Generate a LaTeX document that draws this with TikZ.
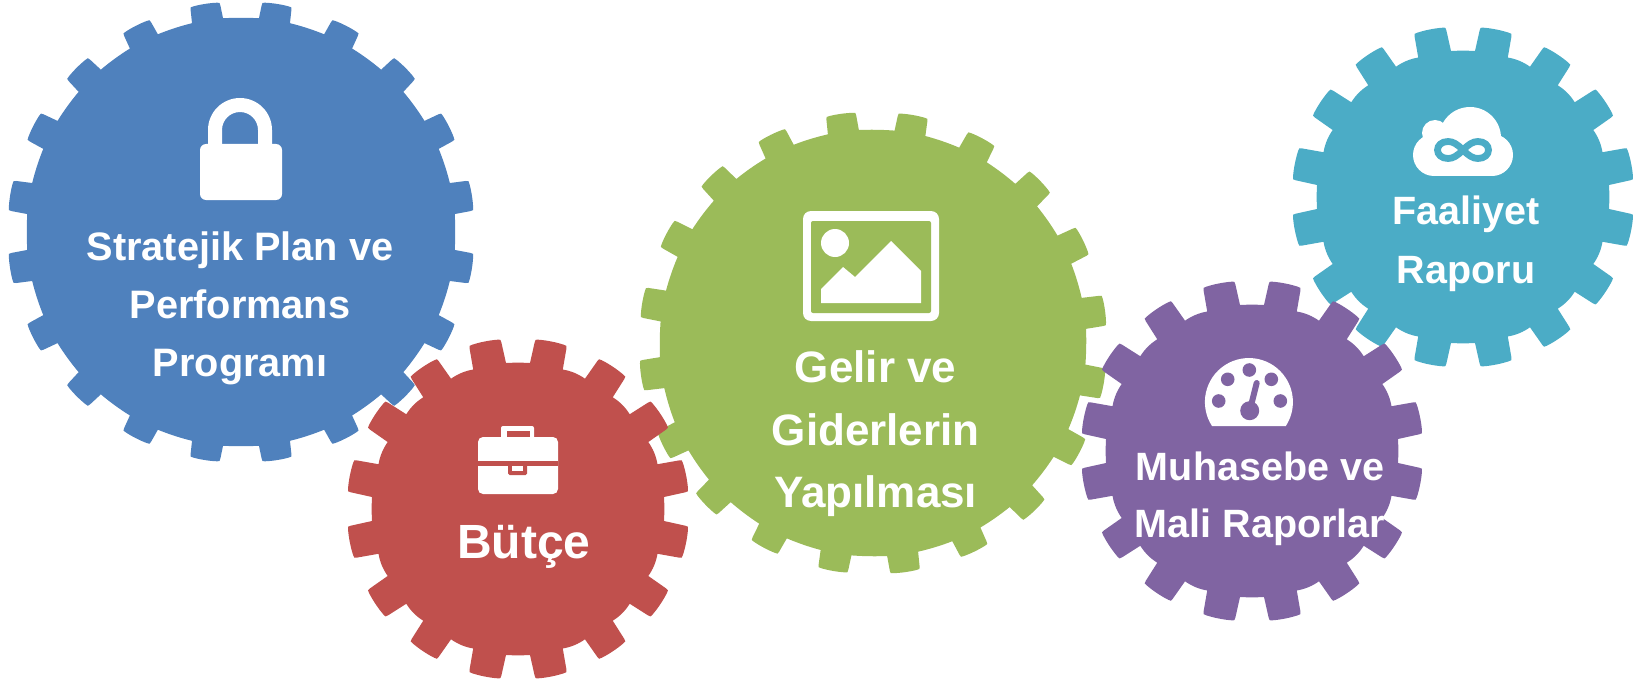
\documentclass[tikz,border=0pt]{standalone}
\usepackage{fontspec}
\setmainfont{Liberation Sans}
\definecolor{gblue}{HTML}{4F81BD}
\definecolor{ggreen}{HTML}{9BBB59}
\definecolor{gteal}{HTML}{4BACC6}
\definecolor{gred}{HTML}{C0504D}
\definecolor{gpurple}{HTML}{8064A2}
% #1 cx, #2 cy, #3 root radius, #4 outer radius, #5 teeth, #6 rotation, #7 base half angle, #8 top half angle, #9 colour
\newcommand{\drawgear}[9]{%
  \pgfmathsetmacro\gc{3}%
  \pgfmathsetmacro\gd{\gc/#4*57.3}%
  \pgfmathsetmacro\gi{#8+(#7-#8)*\gc/(#4-#3)}%
  \pgfmathsetmacro\gs{360/#5}%
  \pgfmathsetmacro\gstart{0.5*\gs+#6-#7}%
  \pgfmathsetmacro\gext{#5==20 ? 3 : 0.7}%
  \pgfmathsetmacro\gbulge{#5==20 ? 0.2 : 1.4}%
  \xdef\gearpath{(\gstart:#3)}%
  \pgfmathtruncatemacro\glast{#5-1}%
  \foreach \k in {0,...,\glast}{%
    \pgfmathsetmacro\ga{(\k+0.5)*\gs+#6}%
    \pgfmathsetmacro\ro{#4+\gext*cos(\ga)*cos(\ga)}%
    \pgfmathsetmacro\ta{\ga-\gi}%
    \pgfmathsetmacro\tb{\ga-#8}%
    \pgfmathsetmacro\tc{\ga-#8+\gd}%
    \pgfmathsetmacro\td{\ga-#8/3}%
    \pgfmathsetmacro\te{\ga+#8/3}%
    \pgfmathsetmacro\tf{\ga+#8-\gd}%
    \pgfmathsetmacro\tg{\ga+#8}%
    \pgfmathsetmacro\th{\ga+\gi}%
    \pgfmathsetmacro\ti{\ga+#7}%
    \pgfmathsetmacro\tj{\ga+\gs-#7}%
    \pgfmathsetmacro\tk{\ti+(\tj-\ti)/3}%
    \pgfmathsetmacro\tl{\tj-(\tj-\ti)/3}%
    \pgfmathsetmacro\rl{\ro-\gc}%
    \pgfmathsetmacro\rb{\ro+0.6}%
    \pgfmathtruncatemacro\gflat{mod(\k+1,#5/4)==0 ? 1 : 0}%
    \pgfmathsetmacro\rv{#3+(\gflat==1 ? 0 : \gbulge)}%
    \xdef\gearpath{\gearpath -- (\ta:\rl) .. controls (\tb:\ro) .. (\tc:\ro)
      .. controls (\td:\rb) and (\te:\rb) .. (\tf:\ro)
      .. controls (\tg:\ro) .. (\th:\rl) -- (\ti:#3)
      .. controls (\tk:\rv) and (\tl:\rv) .. (\tj:#3)}%
  }%
  \fill[#9,shift={(#1,#2)}] \gearpath -- cycle;%
}
\tikzset{
  gearlabel/.style={text=white,inner sep=0pt,align=center,anchor=center},
  iconwhite/.style={fill=white,draw=none},
}
\begin{document}
\begin{tikzpicture}[x=1pt,y=-1pt]
\useasboundingbox (0,0) rectangle (1641,682);
% gears, back to front
\drawgear{241}{232}{214.5}{230.5}{20}{0}{4.2}{3.7}{gblue}
\drawgear{873}{343}{213.5}{231}{20}{1}{4.2}{3.7}{ggreen}
\drawgear{1463}{197}{146.5}{170.5}{16}{0}{6.55}{5.4}{gteal}
\drawgear{518}{509}{146.5}{170.5}{16}{0}{6.55}{5.4}{gred}
\drawgear{1252}{451}{146.5}{170.5}{16}{0}{6.55}{5.4}{gpurple}
% lock
\fill[iconwhite,rounded corners=6pt] (200,144) rectangle (282,200);
\fill[iconwhite] (208,150) -- (208,130) arc[start angle=180,end angle=360,radius=32] -- (272,150) -- (258,150) -- (258,130) arc[start angle=360,end angle=180,radius=18] -- (222,150) -- cycle;
% briefcase
\fill[iconwhite,rounded corners=5pt] (478,437) rectangle (558,494);
\fill[iconwhite,rounded corners=2pt] (501,426) rectangle (534,440);
\fill[gred] (507,431) rectangle (530,437);
\fill[gred] (478,461) rectangle (558,465.5);
\fill[gred,rounded corners=1.5pt] (508,464) rectangle (527,475);
\fill[iconwhite] (512,465.5) rectangle (523,471);
% picture frame
\fill[iconwhite,rounded corners=8pt] (803,211) rectangle (939,321);
\fill[ggreen,rounded corners=2pt] (811,221) rectangle (931,313);
\fill[iconwhite] (835,243) circle[radius=14];
\fill[iconwhite] (821,289) -- (843,267) -- (855,277) -- (891,241) -- (921,271) -- (921,303) -- (821,303) -- cycle;
% gauge
\fill[iconwhite] (1212,426) arc[start angle=147,end angle=393,radius=44] -- cycle;
\foreach \p in {(1249.3,370),(1227.7,379.3),(1271.3,379.3),(1218.7,401),(1280.3,401)}
  \fill[gpurple] \p circle[radius=6.8];
\fill[gpurple] (1249.7,410.7) circle[radius=9.5];
\draw[gpurple,line width=6pt,line cap=round] (1249.7,410.7) -- (1256.7,383);
% cloud
\fill[iconwhite] (1470,138) circle[radius=31];
\fill[iconwhite] (1435,133) circle[radius=13];
\fill[iconwhite] (1434,155) circle[radius=21];
\fill[iconwhite] (1492,155) circle[radius=21];
\fill[iconwhite] (1434,135) rectangle (1492,176);
\draw[gteal,line width=6.8pt] (1463,150) .. controls (1457,144) and (1453,141.5) .. (1448,141.5) .. controls (1441.5,141.5) and (1437.5,145.5) .. (1437.5,150) .. controls (1437.5,154.5) and (1441.5,158.5) .. (1448,158.5) .. controls (1453,158.5) and (1457,156) .. (1463,150) .. controls (1469,144) and (1473,141.5) .. (1478,141.5) .. controls (1484.5,141.5) and (1488.5,145.5) .. (1488.5,150) .. controls (1488.5,154.5) and (1484.5,158.5) .. (1478,158.5) .. controls (1473,158.5) and (1469,156) .. (1463,150) -- cycle;
% labels
\node[gearlabel,font=\bfseries\fontsize{39.7}{58}\selectfont] (strateji) at (240,308.5) {Stratejik Plan ve\\Performans\\Programı};
\node[gearlabel,font=\bfseries\fontsize{48}{55}\selectfont] (butce) at (524,547) {Bütçe};
\node[gearlabel,font=\bfseries\fontsize{44}{62.5}\selectfont] (gelir) at (875.7,434) {Gelir ve\\Giderlerin\\Yapılması};
\node[gearlabel,font=\bfseries\fontsize{39.5}{57.5}\selectfont] (muhasebe) at (1260,499) {Muhasebe ve\\Mali Raporlar};
\node[gearlabel,font=\bfseries\fontsize{39.5}{59}\selectfont] (faaliyet) at (1466,244) {Faaliyet\\Raporu};
\end{tikzpicture}
\end{document}
